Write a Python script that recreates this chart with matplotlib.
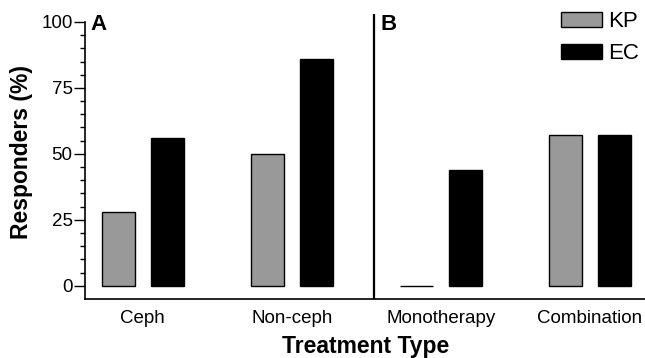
import matplotlib
matplotlib.use("Agg")
import matplotlib.pyplot as plt
import numpy as np

categories = ["Ceph", "Non-ceph", "Monotherapy", "Combination"]
kp_values = [28, 50, 0, 57]
ec_values = [56, 86, 44, 57]
series_names = ["KP", "EC"]
yticks = [0, 25, 50, 75, 100]

plt.rcParams['font.family'] = ['Liberation Sans', 'DejaVu Sans']

fig = plt.figure(figsize=(6.45, 3.58), dpi=100)
ax = fig.add_axes([85/645, 1-299/358, 1-85/645, (299-14)/358])

x = np.arange(len(categories))
off = 0.165
w = 0.22
ax.bar(x - off, kp_values, w, color='#999999', edgecolor='black', linewidth=1.0, label=series_names[0])
ax.bar(x + off, ec_values, w, color='black', edgecolor='black', linewidth=1.0, label=series_names[1])

ax.set_xlim(-0.388, 3.37)
ax.set_ylim(-5, 103)
ax.axvline(1.552, color='black', linewidth=1.6)

ax.spines['top'].set_visible(False)
ax.spines['right'].set_visible(False)
ax.spines['left'].set_bounds(-5, 100)
ax.spines['left'].set_linewidth(1.2)
ax.spines['bottom'].set_linewidth(1.2)

ax.set_yticks(yticks)
ax.set_yticks(np.arange(0, 101, 5), minor=True)
ax.tick_params(axis='y', which='major', length=8, width=1.0, labelsize=13.5, pad=1)
ax.tick_params(axis='y', which='minor', length=3.5, width=1.0)
ax.set_xticks(x)
ax.set_xticklabels(categories)
ax.tick_params(axis='x', length=0, labelsize=13.5, pad=8)

fig.text(22/645, 1-152/358, "Responders (%)", rotation=90, ha='center', va='center',
         fontsize=16.5, fontweight='bold')
fig.text(366/645, 1-353/358, "Treatment Type", ha='center', va='baseline',
         fontsize=16.5, fontweight='bold')
fig.text(90/645, 1-30/358, "A", ha='left', va='baseline', fontsize=16, fontweight='bold')
fig.text(380/645, 1-30/358, "B", ha='left', va='baseline', fontsize=16, fontweight='bold')

ax.legend(loc='upper left', bbox_to_anchor=(561/645, 1-11/358), bbox_transform=fig.transFigure,
          frameon=False, fontsize=16, handlelength=1.86, handleheight=0.68,
          labelspacing=0.5, handletextpad=0.25, borderpad=0, borderaxespad=0)

fig.savefig("out.png", dpi=100)
